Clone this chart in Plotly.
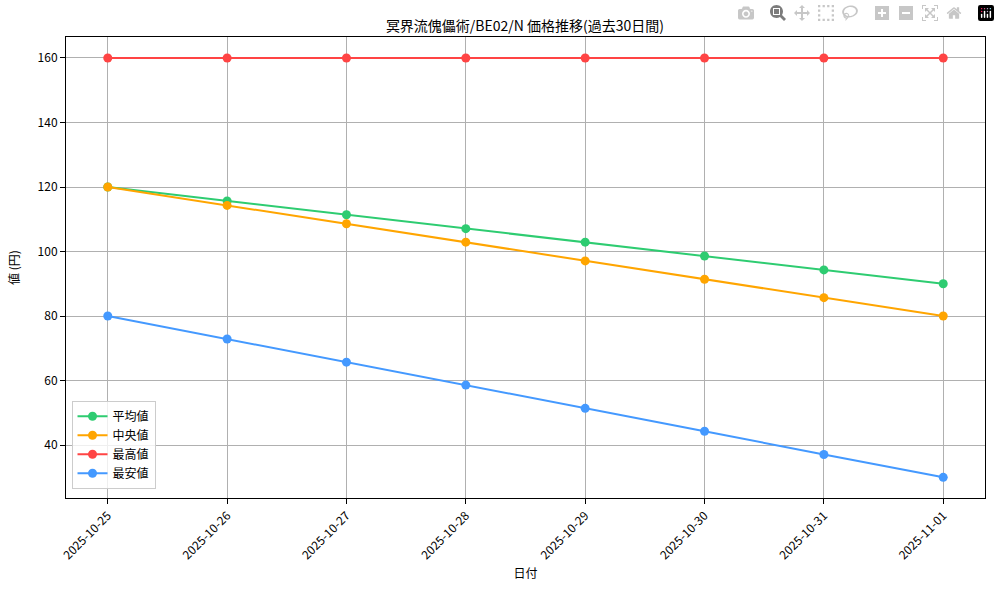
import plotly.graph_objects as go

dates = ["2025-10-25","2025-10-26","2025-10-27","2025-10-28","2025-10-29","2025-10-30","2025-10-31","2025-11-01"]
mean_v = [120, 115.7, 111.4, 107.1, 102.9, 98.6, 94.3, 90]
median_v = [120, 114.3, 108.6, 102.9, 97.1, 91.4, 85.7, 80]
max_v = [160]*8
min_v = [80, 72.9, 65.7, 58.6, 51.4, 44.3, 37.1, 30]

series = [("平均値", mean_v, "#2ecc71"), ("中央値", median_v, "#ffa500"),
          ("最高値", max_v, "#ff4444"), ("最安値", min_v, "#4499ff")]

fig = go.Figure()
for name, vals, col in series:
    fig.add_trace(go.Scatter(x=dates, y=vals, name=name, mode="lines+markers",
                             line=dict(color=col, width=2), marker=dict(size=9, color=col)))

ax = dict(showline=True, linecolor="black", mirror=True, showgrid=True, gridcolor="#b0b0b0",
          ticks="outside", tickcolor="black", zeroline=False, automargin=False)
fig.update_layout(
    width=1000, height=600, plot_bgcolor="white", paper_bgcolor="white",
    font=dict(family="Noto Sans CJK JP", size=12, color="black"),
    title=dict(text="冥界流傀儡術/BE02/N 価格推移(過去30日間)", x=0.525, xanchor="center", y=0.965, font=dict(size=14)),
    margin=dict(l=66, r=15, t=37, b=102),
    xaxis=dict(**ax, type="category", tickangle=-45, title=dict(text="日付", standoff=8, font=dict(size=12)), range=[-0.35, 7.35]),
    yaxis=dict(**ax, title=dict(text="値 (円)", font=dict(size=12)), range=[23.6, 166.5], dtick=20),
    legend=dict(x=0.006, y=0.02, xanchor="left", yanchor="bottom", bordercolor="#cccccc",
                borderwidth=1, bgcolor="rgba(255,255,255,0.8)"),
)
fig.write_html("out.html")
with open("out.html", encoding="utf-8") as f:
    html = f.read()
html = html.replace("<head>", "<head><style>html,body{margin:0;padding:0;}</style>", 1)
with open("out.html", "w", encoding="utf-8") as f:
    f.write(html)
